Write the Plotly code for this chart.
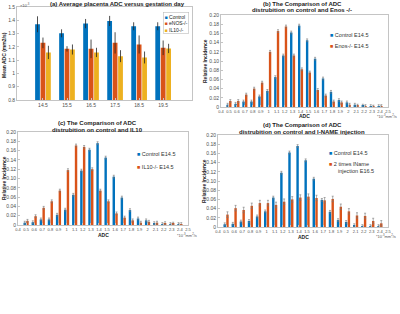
import plotly.graph_objects as go

W, H = 400, 314
def px(x, y):
    return x / W, 1 - y / H

FONT = "Liberation Sans, Arial, sans-serif"
BLUE, ORANGE, YELLOW = "#0072BD", "#D95319", "#EDB120"

# ---------- (a) data ----------
days = [14.5, 15.5, 16.5, 17.5, 18.5, 19.5]
day_labels = ["14.5", "15.5", "16.5", "17.5", "18.5", "19.5"]
a_names = ["Control", "eNOS-/-", "IL10-/-"]
ctrl_mean = [1.370, 1.302, 1.375, 1.395, 1.355, 1.355]
ctrl_err = [0.060, 0.030, 0.035, 0.038, 0.030, 0.030]
enos_mean = [1.230, 1.185, 1.185, 1.230, 1.218, 1.193]
enos_err = [0.040, 0.020, 0.070, 0.080, 0.068, 0.055]
il10_mean = [1.158, 1.180, 1.158, 1.130, 1.120, 1.188]
il10_err = [0.050, 0.038, 0.035, 0.045, 0.045, 0.035]
a_yticks = [0.8, 0.9, 1.0, 1.1, 1.2, 1.3, 1.4, 1.5]
a_yticklabels = ["0.8", "0.9", "1", "1.1", "1.2", "1.3", "1.4", "1.5"]

# ---------- histogram data ----------
adc_bins = [0.5, 0.6, 0.7, 0.8, 0.9, 1.0, 1.1, 1.2, 1.3, 1.4,
            1.5, 1.6, 1.7, 1.8, 1.9, 2.0, 2.1, 2.2, 2.3, 2.4]
adc_ticks = [0.4, 0.5, 0.6, 0.7, 0.8, 0.9, 1.0, 1.1, 1.2, 1.3, 1.4,
             1.5, 1.6, 1.7, 1.8, 1.9, 2.0, 2.1, 2.2, 2.3, 2.4, 2.5]
adc_ticklabels = ["0.4", "0.5", "0.6", "0.7", "0.8", "0.9", "1", "1.1", "1.2", "1.3", "1.4",
                  "1.5", "1.6", "1.7", "1.8", "1.9", "2", "2.1", "2.2", "2.3", "2.4", "2.5"]
inc_ticks = [0, 0.02, 0.04, 0.06, 0.08, 0.10, 0.12, 0.14, 0.16, 0.18, 0.20]
inc_ticklabels = ["0", "0.02", "0.04", "0.06", "0.08", "0.10", "0.12", "0.14", "0.16", "0.18", "0.20"]

b_ctrl = [0.005, 0.007, 0.012, 0.012, 0.023, 0.035, 0.065, 0.112, 0.162, 0.177,
          0.145, 0.105, 0.062, 0.033, 0.015, 0.010, 0.005, 0.003, 0.002, 0.002]
b_enos = [0.013, 0.013, 0.027, 0.040, 0.053, 0.120, 0.165, 0.175, 0.112, 0.082,
          0.075, 0.037, 0.025, 0.012, 0.010, 0.005, 0.003, 0.002, 0.001, 0.002]
c_ctrl = [0.005, 0.006, 0.012, 0.012, 0.022, 0.033, 0.065, 0.117, 0.162, 0.176,
          0.145, 0.104, 0.059, 0.032, 0.014, 0.010, 0.004, 0.002, 0.002, 0.002]
c_il10 = [0.009, 0.019, 0.037, 0.051, 0.074, 0.118, 0.171, 0.168, 0.120, 0.074,
          0.051, 0.025, 0.016, 0.010, 0.005, 0.007, 0.005, 0.004, 0.003, 0.002]
d_ctrl = [0.006, 0.007, 0.012, 0.013, 0.023, 0.034, 0.064, 0.118, 0.162, 0.176,
          0.145, 0.105, 0.059, 0.033, 0.015, 0.011, 0.004, 0.002, 0.002, 0.002]
d_lname = [0.027, 0.041, 0.037, 0.046, 0.052, 0.052, 0.048, 0.055, 0.060, 0.064,
           0.066, 0.063, 0.058, 0.061, 0.044, 0.034, 0.025, 0.024, 0.013, 0.008]
hist_err_small = 0.003
hist_err_lname = 0.006

fig = go.Figure()

err_a = dict(type="data", color="#222222", thickness=0.8, width=0)
for name, col, m, e in [(a_names[0], BLUE, ctrl_mean, ctrl_err),
                        (a_names[1], ORANGE, enos_mean, enos_err),
                        (a_names[2], YELLOW, il10_mean, il10_err)]:
    fig.add_trace(go.Bar(x=days, y=m, name=name, marker=dict(color=col, line=dict(width=0)),
                         error_y=dict(array=e, **err_a), xaxis="x", yaxis="y", showlegend=False))

def err_h(v):
    return dict(type="data", array=[v] * len(adc_bins), color="#777777", thickness=0.6, width=1)

hist_sets = [("x2", "y2", b_ctrl, b_enos, hist_err_small),
             ("x3", "y3", c_ctrl, c_il10, hist_err_small),
             ("x4", "y4", d_ctrl, d_lname, hist_err_lname)]
for xa, ya, ctrl, other, oe in hist_sets:
    fig.add_trace(go.Bar(x=adc_bins, y=ctrl, marker=dict(color=BLUE, line=dict(width=0)),
                         error_y=err_h(hist_err_small), xaxis=xa, yaxis=ya, showlegend=False))
    fig.add_trace(go.Bar(x=adc_bins, y=other, marker=dict(color=ORANGE, line=dict(width=0)),
                         error_y=err_h(oe), xaxis=xa, yaxis=ya, showlegend=False))

axis_common = dict(showline=True, linecolor="#c4c4c4", linewidth=0.8, mirror=True,
                   ticks="inside", ticklen=2, tickcolor="#c4c4c4", tickwidth=0.6,
                   showgrid=False, zeroline=False, tickangle=0, automargin=False,
                   tickfont=dict(size=5, color="#4d4d4d", family=FONT))
hx_common = dict(axis_common)
hx_common["tickfont"] = dict(size=4, color="#4d4d4d", family=FONT)

def dom_x(l, r): return [l / W, r / W]
def dom_y(t, b): return [1 - b / H, 1 - t / H]

fig.update_layout(
    width=W, height=H, margin=dict(l=0, r=0, t=0, b=0, autoexpand=False),
    paper_bgcolor="white", plot_bgcolor="white",
    barmode="group", bargap=0.32, bargroupgap=0.12,
    font=dict(family=FONT),
    xaxis=dict(domain=dom_x(17, 192), range=[13.42, 20.7], tickvals=days, ticktext=day_labels,
               anchor="y", **axis_common),
    yaxis=dict(domain=dom_y(7, 100), range=[0.8, 1.5], tickvals=a_yticks, ticktext=a_yticklabels,
               anchor="x", **axis_common),
    xaxis2=dict(domain=dom_x(221, 388), range=[0.4, 2.5], tickvals=adc_ticks, ticktext=adc_ticklabels,
                anchor="y2", **hx_common),
    yaxis2=dict(domain=dom_y(15, 107), range=[0, 0.2], tickvals=inc_ticks, ticktext=inc_ticklabels,
                anchor="x2", **axis_common),
    xaxis3=dict(domain=dom_x(18, 188), range=[0.4, 2.5], tickvals=adc_ticks, ticktext=adc_ticklabels,
                anchor="y3", **hx_common),
    yaxis3=dict(domain=dom_y(132, 225), range=[0, 0.2], tickvals=inc_ticks, ticktext=inc_ticklabels,
                anchor="x3", **axis_common),
    xaxis4=dict(domain=dom_x(218, 388), range=[0.4, 2.5], tickvals=adc_ticks, ticktext=adc_ticklabels,
                anchor="y4", **hx_common),
    yaxis4=dict(domain=dom_y(135, 227), range=[0, 0.2], tickvals=inc_ticks, ticktext=inc_ticklabels,
                anchor="x4", **axis_common),
)

anns = []
def add_text(x, y, text, size=5, bold=False, color="#222222", xanchor="center", angle=0, **kw):
    xx, yy = px(x, y)
    if bold:
        text = "<b>" + text + "</b>"
    anns.append(dict(x=xx, y=yy, xref="paper", yref="paper", text=text, showarrow=False,
                     xanchor=xanchor, yanchor="middle", textangle=angle,
                     font=dict(size=size, color=color, family=FONT), **kw))

# titles
add_text(117, 4, "(a) Average placenta ADC versus gestation day", size=6, bold=True)
add_text(302, 4, "(b) The Comparison of ADC", size=6, bold=True)
add_text(302, 10, "distrubition on control and Enos -/-", size=6, bold=True)
add_text(97, 123, "(c) The Comparison of ADC", size=6, bold=True)
add_text(97, 129.5, "distrubition on control and IL10", size=6, bold=True)
add_text(302, 125, "(d) The Comparison of ADC", size=6, bold=True)
add_text(302, 131.5, "distrubition on control and l-NAME injection", size=6, bold=True)

# y titles
add_text(4, 55, "Mean ADC (mm2/s)", size=5, bold=True, angle=-90)
add_text(205, 61, "Relative Incidence", size=5, bold=True, angle=-90)
add_text(4, 178, "Relative Incidence", size=5, bold=True, angle=-90)
add_text(204, 181, "Relative Incidence", size=5, bold=True, angle=-90)

# x titles
add_text(304, 116.5, "ADC", size=5, bold=True)
add_text(103, 235, "ADC", size=5, bold=True)
add_text(303, 236.5, "ADC", size=5, bold=True)

# exponent / units
add_text(18, 4.5, "×10<sup>-3</sup>", size=4, color="#555555", xanchor="left")
for (x, y) in [(399, 116), (199, 234.5), (398, 236)]:
    add_text(x, y, "*10<sup>-3</sup>mm<sup>2</sup>/s", size=4, color="#555555", xanchor="right")

# legend (a) box
legA = "<br>".join('<span style="color:%s">■</span> %s' % (c, n)
                   for c, n in zip([BLUE, ORANGE, YELLOW], a_names))
xx, yy = px(163, 12)
anns.append(dict(x=xx, y=yy, xref="paper", yref="paper", text=legA, showarrow=False,
                 xanchor="left", yanchor="top", align="left",
                 bordercolor="#bbbbbb", borderwidth=0.6, borderpad=1, bgcolor="white",
                 font=dict(size=5, color="#222222", family=FONT)))

def legend_items(x, y0, step, items):
    for i, (c, n) in enumerate(items):
        t = ('<span style="color:%s">■</span> ' % c if c else "") + n
        add_text(x, y0 + i * step, t, size=5.5, xanchor="left", color="#333333")

legend_items(328, 35, 11, [(BLUE, "Control E14.5"), (ORANGE, "Enos-/- E14.5")])
legend_items(135, 154, 12.5, [(BLUE, "Control E14.5"), (ORANGE, "IL10-/- E14.5")])
legend_items(327, 153, 10.5, [(BLUE, "Control E14.5"), (ORANGE, "2 times lName")])
add_text(336, 171, "injection E16.5", size=5.5, xanchor="left", color="#333333")

fig.update_layout(annotations=anns)
fig.write_html("out.html", config={"displayModeBar": False},
               post_script="document.body.style.margin='0px';document.body.style.padding='0px';")
